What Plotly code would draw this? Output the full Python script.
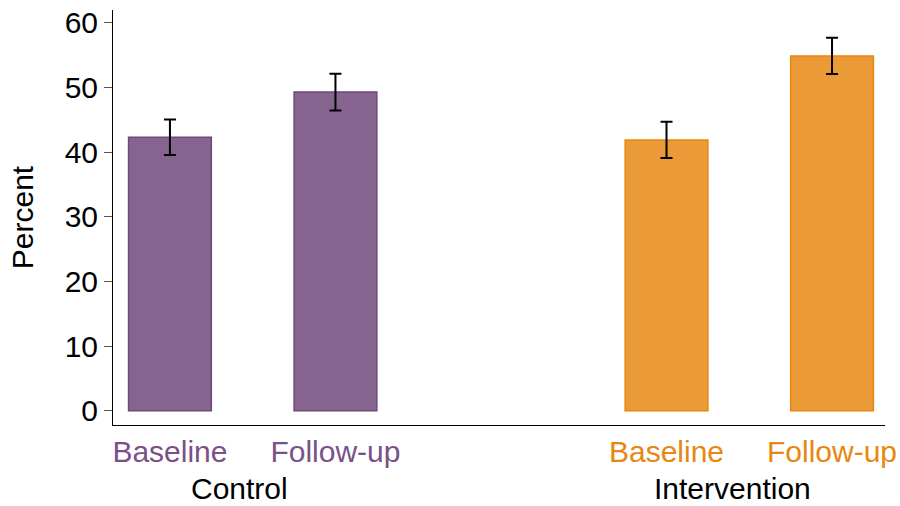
import plotly.graph_objects as go

groups = ["Control", "Intervention"]
periods = ["Baseline", "Follow-up"]
values = [42.3, 49.3, 41.9, 54.9]
errors = [2.75, 2.85, 2.8, 2.8]
positions = [0, 1, 3, 4]
group_positions = [0.42, 3.40]
fill_colors = ["#87638F", "#87638F", "#EA9A37", "#EA9A37"]
line_colors = ["#6E4A7A", "#6E4A7A", "#E8870F", "#E8870F"]
label_colors = ["#7A5088", "#7A5088", "#E8870F", "#E8870F"]
tick_vals_y = [0, 10, 20, 30, 40, 50, 60]

fig = go.Figure()
fig.add_trace(go.Bar(
    x=positions, y=values, width=0.5,
    marker=dict(color=fill_colors, line=dict(color=line_colors, width=1.5)),
    error_y=dict(type="data", array=errors, color="black", thickness=2, width=6),
    showlegend=False,
))

ticktext = [f'<span style="color:{c}">{p}</span>' for c, p in zip(label_colors, periods * 2)]

fig.update_layout(
    width=900, height=506,
    margin=dict(l=113, r=15, t=10, b=81),
    plot_bgcolor="white", paper_bgcolor="white",
    font=dict(family="Liberation Sans, Arial", size=30, color="black"),
    xaxis=dict(range=[-0.344, 4.32], tickvals=positions, ticktext=ticktext,
               showline=True, linecolor="black", linewidth=1, ticks="",
               showgrid=False, zeroline=False, tickfont=dict(size=30),
               automargin=False),
    yaxis=dict(range=[-2.2, 62], tickvals=tick_vals_y, showline=True,
               linecolor="black", linewidth=1, ticks="outside", ticklen=8,
               tickcolor="#555", showgrid=False, zeroline=False,
               title=dict(text="Percent", standoff=22, font=dict(size=30)),
               tickfont=dict(size=30), automargin=False),
)

for gx, g in zip(group_positions, groups):
    fig.add_annotation(x=gx, y=-0.153, xref="x", yref="paper", text=g,
                       showarrow=False, font=dict(size=30, color="black"),
                       yanchor="middle", borderpad=0)

fig.write_html("out.html")
